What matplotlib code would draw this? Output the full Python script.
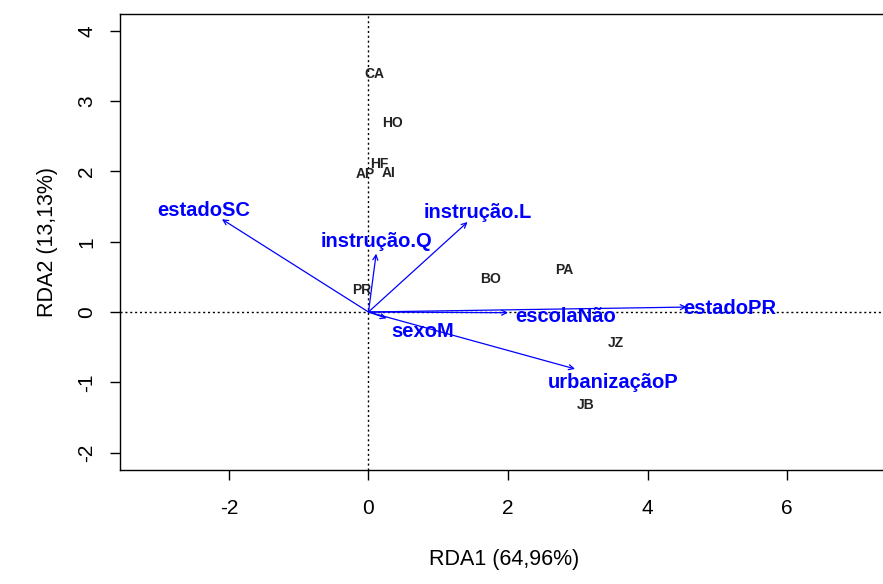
import matplotlib.pyplot as plt

plt.rcParams["font.family"] = ["Liberation Sans", "DejaVu Sans"]
plt.rcParams["axes.unicode_minus"] = False

# site scores (black labels)
sites = ["CA", "HO", "HF", "AP", "AI", "PR", "BO", "PA", "JZ", "JB"]
site_x = [0.09, 0.35, 0.15, -0.05, 0.29, -0.09, 1.75, 2.81, 3.54, 3.11]
site_y = [3.39, 2.69, 2.11, 1.97, 1.98, 0.31, 0.47, 0.60, -0.44, -1.32]

# constraint arrows (blue)
vars_ = ["estadoSC", "instrução.Q", "instrução.L", "escolaNão", "estadoPR", "sexoM", "urbanizaçãoP"]
arr_x = [-2.10, 0.11, 1.42, 2.00, 4.56, 0.26, 2.96]
arr_y = [1.32, 0.83, 1.28, -0.01, 0.07, -0.09, -0.81]
lab_x = [-2.36, 0.11, 1.56, 2.82, 5.18, 0.78, 3.51]
lab_y = [1.44, 1.00, 1.42, -0.06, 0.05, -0.28, -1.01]

BLUE = "#0000FF"

fig = plt.figure(figsize=(8.83, 5.84), dpi=100)
ax = fig.add_axes([0.136, 0.195, 0.87, 0.781])
ax.set_xlim(-3.56, 7.45)
ax.set_ylim(-2.25, 4.24)

ax.axhline(0, color="black", linestyle=(0, (1.5, 2)), linewidth=1)
ax.axvline(0, color="black", linestyle=(0, (1.5, 2)), linewidth=1)

for name, x, y in zip(sites, site_x, site_y):
    ax.text(x, y, name, ha="center", va="center", fontsize=10,
            weight="bold", color="#222222")

for name, x, y, lx, ly in zip(vars_, arr_x, arr_y, lab_x, lab_y):
    ax.annotate("", xy=(x, y), xytext=(0, 0),
                arrowprops=dict(arrowstyle="->", color=BLUE, lw=0.9,
                                shrinkA=0, shrinkB=0, mutation_scale=9))
    ax.text(lx, ly, name, ha="center", va="center", fontsize=14.5,
            weight="bold", color=BLUE)

ax.set_xticks([-2, 0, 2, 4, 6])
ax.set_yticks([-2, -1, 0, 1, 2, 3, 4])
ax.set_yticklabels([str(v) for v in [-2, -1, 0, 1, 2, 3, 4]], rotation=90, va="center")
ax.tick_params(axis="both", direction="out", length=7, width=1, labelsize=15, pad=10)
ax.tick_params(axis="x", pad=14)
for s in ax.spines.values():
    s.set_linewidth(1)

ax.set_xlabel("RDA1 (64,96%)", fontsize=15.5, labelpad=22)
ax.set_ylabel("RDA2 (13,13%)", fontsize=15.5, labelpad=14)

fig.savefig("out.png", dpi=100)
